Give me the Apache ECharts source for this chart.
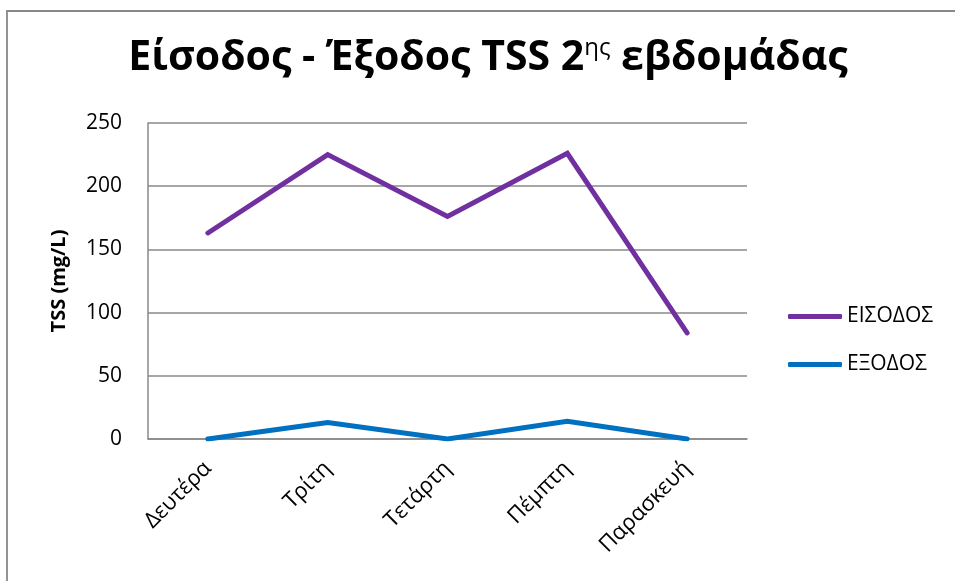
<!DOCTYPE html>
<html><head><meta charset="utf-8">
<script src="https://cdn.jsdelivr.net/npm/echarts@6/dist/echarts.min.js"></script>
<style>html,body{margin:0;padding:0;background:#fff}#c{width:955px;height:581px}</style>
</head><body><div id="c"></div>
<script>
const categories = ['Δευτέρα', 'Τρίτη', 'Τετάρτη', 'Πέμπτη', 'Παρασκευή'];
const eisodos = [163, 225, 176, 226, 84];
const exodos = [0, 13, 0, 14, 0];
const yTicks = [0, 50, 100, 150, 200, 250];

const FONT = '"Open Sans", "Noto Sans", sans-serif';
const chart = echarts.init(document.getElementById('c'));
chart.setOption({
  animation: false,
  backgroundColor: '#fff',
  graphic: [{
    type: 'rect', shape: {x: 7, y: 11, width: 960, height: 580},
    style: {fill: 'none', stroke: '#888', lineWidth: 1.8}, silent: true
  }],
  title: {
    text: 'Είσοδος - Έξοδος TSS 2{sup|ης} εβδομάδας',
    left: 483, top: 31, textAlign: 'center',
    textStyle: {
      fontFamily: FONT, fontWeight: 'bold', fontSize: 41, color: '#000',
      rich: { sup: {fontFamily: FONT, fontWeight: 'normal', fontSize: 24, color: '#000', verticalAlign: 'top', padding: [0,0,20,0]} }
    }
  },
  legend: {
    orient: 'vertical', left: 783, top: 301, itemGap: 27,
    itemWidth: 54, itemHeight: 5,
    icon: 'roundRect',
    textStyle: {fontFamily: FONT, fontSize: 21, color: '#000'},
    data: ['ΕΙΣΟΔΟΣ', 'ΕΞΟΔΟΣ']
  },
  grid: {left: 148, top: 123, width: 599, height: 316},
  xAxis: {
    type: 'category', data: categories, boundaryGap: true,
    axisLine: {lineStyle: {color: '#888', width: 1.5}},
    axisTick: {show: false},
    axisLabel: {rotate: 45, fontFamily: FONT, fontSize: 22, color: '#000', margin: 26, interval: 0}
  },
  yAxis: {
    type: 'value', min: 0, max: 250, interval: 50,
    name: 'TSS (mg/L)', nameLocation: 'middle', nameGap: 79, nameRotate: 90,
    nameTextStyle: {fontFamily: FONT, fontWeight: 'bold', fontSize: 20, color: '#000'},
    axisLine: {show: true, lineStyle: {color: '#888', width: 1.5}},
    axisTick: {show: false},
    axisLabel: {fontFamily: FONT, fontSize: 21, color: '#000', margin: 26,
      formatter: v => yTicks.includes(v) ? String(v) : ''},
    splitLine: {lineStyle: {color: '#888', width: 1.5}}
  },
  series: [
    {name: 'ΕΙΣΟΔΟΣ', type: 'line', data: eisodos, symbol: 'none',
     lineStyle: {color: '#7030A0', width: 5, cap: 'round', join: 'miter'}, itemStyle: {color: '#7030A0'}},
    {name: 'ΕΞΟΔΟΣ', type: 'line', data: exodos, symbol: 'none',
     lineStyle: {color: '#0070C0', width: 5, cap: 'round', join: 'miter'}, itemStyle: {color: '#0070C0'}}
  ]
});
</script></body></html>
